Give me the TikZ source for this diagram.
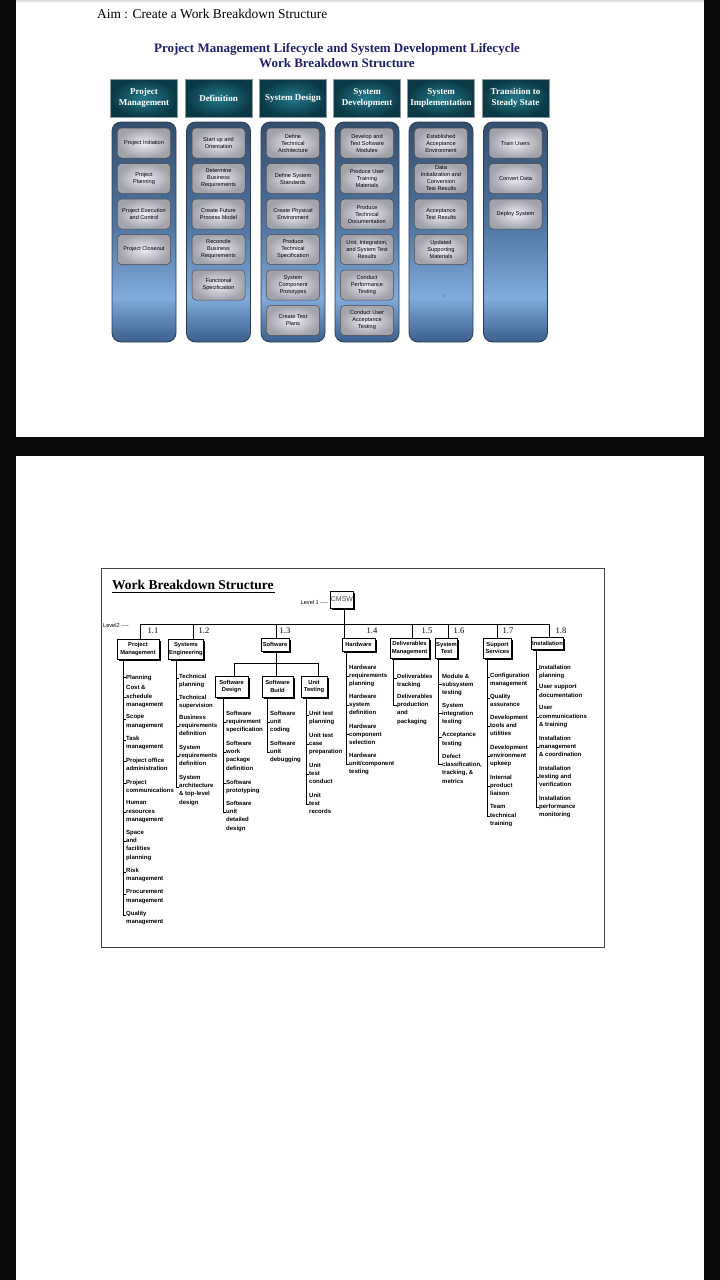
\documentclass[tikz,border=0pt]{standalone}
\usepackage{fontspec}
\setmainfont{Liberation Serif}
\newfontfamily\arialf{Liberation Sans}
\usetikzlibrary{shadows}
\definecolor{pageblack}{HTML}{0A0A0A}
\definecolor{hdrin}{HTML}{22798A}
\definecolor{hdrout}{HTML}{0B3945}
\definecolor{hdrbd}{HTML}{8A9AA0}
\definecolor{itin}{HTML}{EEEDF6}
\definecolor{itout}{HTML}{A2A2AA}
\definecolor{itbd}{HTML}{48484F}
\definecolor{colbd}{HTML}{2A3D55}
\definecolor{navy}{HTML}{1F1F6B}
\definecolor{ctop}{HTML}{34506F}
\definecolor{cmid}{HTML}{4F74A0}
\definecolor{clight}{HTML}{80ABDB}
\definecolor{cbot}{HTML}{3A5F8C}
\definecolor{framec}{HTML}{404040}
\pgfdeclareverticalshading{colshade}{100bp}{color(0bp)=(cbot); color(25bp)=(cbot); color(35bp)=(clight); color(52bp)=(cmid); color(75bp)=(ctop); color(100bp)=(ctop)}
\tikzset{
  hdr/.style={draw=hdrbd, line width=0.6pt, inner color=hdrin, outer color=hdrout,
    minimum width=67pt, minimum height=38pt, inner sep=0pt, text=white, align=center,
    font=\bfseries\fontsize{9}{11}\selectfont},
  colbody/.style={draw=colbd, line width=0.8pt, rounded corners=9pt, shading=colshade},
  itembox/.style={draw=itbd, line width=0.5pt, rounded corners=4pt, inner color=itin, outer color=itout,
    minimum width=53pt, minimum height=30pt, inner sep=0pt, align=center,
    font=\arialf\fontsize{5.6}{7}\selectfont},
  l2box/.style={draw=black, fill=white, line width=0.7pt, inner sep=0.5pt, align=center,
    font=\arialf\bfseries\fontsize{5.8}{7.8}\selectfont,
    drop shadow={shadow xshift=1.8pt, shadow yshift=-1.8pt, opacity=1, fill=black}},
  wtxt/.style={inner sep=0pt, align=left, anchor=north west, font=\arialf\bfseries\fontsize{6}{8.4}\selectfont},
  wline/.style={draw=black, line width=0.6pt},
  num/.style={inner sep=0pt, font=\fontsize{8.5}{9}\selectfont},
  lvl/.style={inner sep=0pt, font=\arialf\fontsize{5.6}{6}\selectfont}
}
\newcommand\wi[5]{\node[wtxt] at (#2,#3-2.4) {#5}; \draw[wline] (#1,#4) -- (#2+0.4,#4);}
\begin{document}
\begin{tikzpicture}[x=1pt,y=-1pt]
\useasboundingbox (0,0) rectangle (720,1280);
\fill[pageblack] (0,0) rectangle (720,1280);
\fill[white] (16,0) rectangle (704,437);
\fill[white] (16,456) rectangle (704,1280);
\fill[black!12] (16,0) rectangle (704,1.5);

% ---------- top diagram ----------
\node[anchor=base west, inner sep=0pt, font=\fontsize{13.4}{15}\selectfont] (aim) at (97,18) {Aim : Create a Work Breakdown Structure};
\node[inner sep=0pt, align=center, text=navy, font=\bfseries\fontsize{13}{15}\selectfont] (title) at (337,55.5)
  {Project Management Lifecycle and System Development Lifecycle\\Work Breakdown Structure};

% column bodies
\foreach \cx in {144,218.5,293,367,441,515.5}{
  \path[colbody] (\cx-32,122) rectangle (\cx+32,342);
}
% headers
\node[hdr] (h1) at (144,98) {Project\\Management};
\node[hdr] (h2) at (218.5,98) {Definition};
\node[hdr] (h3) at (293,98) {System Design};
\node[hdr] (h4) at (367,98) {System\\Development};
\node[hdr] (h5) at (441,98) {System\\Implementation};
\node[hdr] (h6) at (515.5,98) {Transition to\\Steady State};

% items
\node[itembox] (a1) at (144,143) {Project Initiation};
\node[itembox] (a2) at (144,178.5) {Project\\Planning};
\node[itembox] (a3) at (144,214) {Project Execution\\and Control};
\node[itembox] (a4) at (144,249.5) {Project Closeout};

\node[itembox] (b1) at (218.5,143) {Start up and\\Orientation};
\node[itembox] (b2) at (218.5,178.5) {Determine\\Business\\Requirements};
\node[itembox] (b3) at (218.5,214) {Create Future\\Process Model};
\node[itembox] (b4) at (218.5,249.5) {Reconcile\\Business\\Requirements};
\node[itembox] (b5) at (218.5,285) {Functional\\Specification};

\node[itembox] (c1) at (293,143) {Define\\Technical\\Architecture};
\node[itembox] (c2) at (293,178.5) {Define System\\Standards};
\node[itembox] (c3) at (293,214) {Create Physical\\Environment};
\node[itembox] (c4) at (293,249.5) {Produce\\Technical\\Specification};
\node[itembox] (c5) at (293,285) {System\\Component\\Prototypes};
\node[itembox] (c6) at (293,320.5) {Create Test\\Plans};

\node[itembox] (d1) at (367,143) {Develop and\\Test Software\\Modules};
\node[itembox] (d2) at (367,178.5) {Produce User\\Training\\Materials};
\node[itembox] (d3) at (367,214) {Produce\\Technical\\Documentation};
\node[itembox] (d4) at (367,249.5) {Unit, Integration,\\and System Test\\Results};
\node[itembox] (d5) at (367,285) {Conduct\\Performance\\Testing};
\node[itembox] (d6) at (367,320.5) {Conduct User\\Acceptance\\Testing};

\node[itembox] (e1) at (441,143) {Established\\Acceptance\\Environment};
\node[itembox] (e2) at (441,178.5) {Data\\Initialization and\\Conversion\\Test Results};
\node[itembox] (e3) at (441,214) {Acceptance\\Test Results};
\node[itembox] (e4) at (441,249.5) {Updated\\Supporting\\Materials};
\fill[black!75] (444,296) circle (0.7);

\node[itembox] (f1) at (515.5,143) {Train Users};
\node[itembox] (f2) at (515.5,178.5) {Convert Data};
\node[itembox] (f3) at (515.5,214) {Deploy System};

% ---------- bottom WBS ----------
\draw[framec, line width=1pt] (101,568) rectangle (604,947);
\node[anchor=base west, inner sep=0pt, font=\bfseries\fontsize{13.5}{15}\selectfont] (wbst) at (112,589) {Work Breakdown Structure};
\draw[line width=1pt] (wbst.base west) ++(0,3.5) -- ++(163,0);

\node[l2box, minimum width=22pt, minimum height=17pt, text=black!70, font=\arialf\fontsize{7}{8}\selectfont] (cmsw) at (342,599.5) {CMSW};
\node[lvl, anchor=east] (lv1) at (328,602) {Level 1 ----};
\node[lvl, anchor=west] (lv2) at (103,625) {Level2 ----};

% level 2 boxes
\node[l2box, minimum width=42pt, minimum height=20pt] (pm) at (138,649) {Project\\Management};
\node[l2box, minimum width=33pt, minimum height=20pt] (se) at (186,649) {Systems\\Engineering};
\node[l2box, minimum width=28pt, minimum height=13pt] (sw) at (275,644.5) {Software};
\node[l2box, minimum width=33pt, minimum height=13pt] (hw) at (358.5,644.5) {Hardware};
\node[l2box, minimum width=39pt, minimum height=20pt] (dm) at (409.5,648) {Deliverables\\Management};
\node[l2box, minimum width=20pt, minimum height=20pt] (st) at (446.5,648) {System\\Test};
\node[l2box, minimum width=28pt, minimum height=20pt] (ss) at (497.5,648) {Support\\Services};
\node[l2box, minimum width=32pt, minimum height=12pt] (ins) at (547.5,643.5) {Installation};

% bar and verticals
\coordinate (v1) at (140,624);
\coordinate (v2) at (193,624);
\coordinate (v3) at (276,624);
\coordinate (v4) at (344,624);
\coordinate (v5) at (412,624);
\coordinate (v6) at (448,624);
\coordinate (v7) at (497,624);
\coordinate (v8) at (549,624);
\draw[wline] (v1) -- (v8);
\draw[wline] (cmsw.south -| v4) -- (v4 |- hw.north);
\foreach \v/\b in {v1/pm,v2/se,v3/sw,v5/dm,v6/st,v7/ss,v8/ins}{
  \draw[wline] (\v) -- (\v |- \b.north);
}
\node[num] at (153,631) {1.1};
\node[num] at (204,631) {1.2};
\node[num] at (285,631) {1.3};
\node[num] at (372,631) {1.4};
\node[num] at (427,631) {1.5};
\node[num] at (459,631) {1.6};
\node[num] at (508,631) {1.7};
\node[num] at (561,631) {1.8};

% software subtree
\node[l2box, minimum width=33pt, minimum height=21pt] (sd) at (231.5,686.5) {Software\\Design};
\node[l2box, minimum width=31pt, minimum height=21pt] (sb) at (277.5,686.5) {Software\\Build};
\node[l2box, minimum width=26pt, minimum height=21pt] (ut) at (314,686.5) {Unit\\Testing};
\coordinate (j1) at (234,663);
\coordinate (j2) at (276,663);
\coordinate (j3) at (318,663);
\draw[wline] (sw.south -| j2) -- (j2);
\draw[wline] (j1) -- (j3);
\draw[wline] (j1) -- (j1 |- sd.north);
\draw[wline] (j2) -- (j2 |- sb.north);
\draw[wline] (j3) -- (j3 |- ut.north);

% spines
\coordinate (p1) at (123,915);
\coordinate (p2) at (176,787);
\coordinate (p3) at (223,812);
\coordinate (p4) at (267,752);
\coordinate (p5) at (306,804);
\coordinate (p6) at (346,764);
\coordinate (p7) at (393,705);
\coordinate (p8) at (438,764);
\coordinate (p9) at (487,816);
\coordinate (p10) at (536,807);
\foreach \b/\p in {pm/p1,se/p2,sd/p3,sb/p4,ut/p5,hw/p6,dm/p7,st/p8,ss/p9,ins/p10}{
  \draw[wline] (\b.south -| \p) -- (\p);
}

% 1.1 Project Management
\wi{123}{126}{677}{677}{Planning}
\wi{123}{126}{688}{697}{Cost \&\\schedule\\management}
\wi{123}{126}{717}{719}{Scope\\management}
\wi{123}{126}{738}{740}{Task\\management}
\wi{123}{126}{760}{761}{Project office\\administration}
\wi{123}{126}{782}{783}{Project\\communications}
\wi{123}{126}{803}{812}{Human\\resources\\management}
\wi{123}{126}{832}{841}{Space\\and\\facilities\\planning}
\wi{123}{126}{870}{872}{Risk\\management}
\wi{123}{126}{892}{894}{Procurement\\management}
\wi{123}{126}{913}{915}{Quality\\management}
% 1.2 Systems Engineering
\wi{176}{179}{676}{678}{Technical\\planning}
\wi{176}{179}{697}{699}{Technical\\supervision}
\wi{176}{179}{717}{726}{Business\\requirements\\definition}
\wi{176}{179}{747}{756}{System\\requirements\\definition}
\wi{176}{179}{777}{787}{System\\architecture\\\& top-level\\design}
% Software Design
\wi{223}{226}{713}{722}{Software\\requirement\\specification}
\wi{223}{226}{743}{752}{Software\\work\\package\\definition}
\wi{223}{226}{782}{783}{Software\\prototyping}
\wi{223}{226}{803}{812}{Software\\unit\\detailed\\design}
% Software Build
\wi{267}{270}{713}{722}{Software\\unit\\coding}
\wi{267}{270}{743}{752}{Software\\unit\\debugging}
% Unit Testing
\wi{306}{309}{713}{715}{Unit test\\planning}
\wi{306}{309}{735}{744}{Unit test\\case\\preparation}
\wi{306}{309}{765}{774}{Unit\\test\\conduct}
\wi{306}{309}{795}{804}{Unit\\test\\records}
% 1.4 Hardware
\wi{346}{349}{667}{676}{Hardware\\requirements\\planning}
\wi{346}{349}{696}{705}{Hardware\\system\\definition}
\wi{346}{349}{726}{734}{Hardware\\component\\selection}
\wi{346}{349}{755}{764}{Hardware\\unit/component\\testing}
% 1.5 Deliverables
\wi{393}{397}{676}{678}{Deliverables\\tracking}
\wi{393}{397}{696}{705}{Deliverables\\production\\and\\packaging}
% 1.6 System Test
\wi{438}{442}{676}{684}{Module \&\\subsystem\\testing}
\wi{438}{442}{705}{713}{System\\integration\\testing}
\wi{438}{442}{735}{737}{Acceptance\\testing}
\wi{438}{442}{756}{764}{Defect\\classification,\\tracking, \&\\metrics}
% 1.7 Support Services
\wi{487}{490}{675}{677}{Configuration\\management}
\wi{487}{490}{696}{698}{Quality\\assurance}
\wi{487}{490}{717}{726}{Development\\tools and\\utilities}
\wi{487}{490}{747}{756}{Development\\environment\\upkeep}
\wi{487}{490}{777}{786}{Internal\\product\\liaison}
\wi{487}{490}{807}{816}{Team\\technical\\training}
% 1.8 Installation
\wi{536}{539}{667}{669}{Installation\\planning}
\wi{536}{539}{687}{689}{User support\\documentation}
\wi{536}{539}{708}{717}{User\\communications\\\& training}
\wi{536}{539}{738}{747}{Installation\\management\\\& coordination}
\wi{536}{539}{768}{777}{Installation\\testing and\\verification}
\wi{536}{539}{798}{807}{Installation\\performance\\monitoring}
\end{tikzpicture}
\end{document}
